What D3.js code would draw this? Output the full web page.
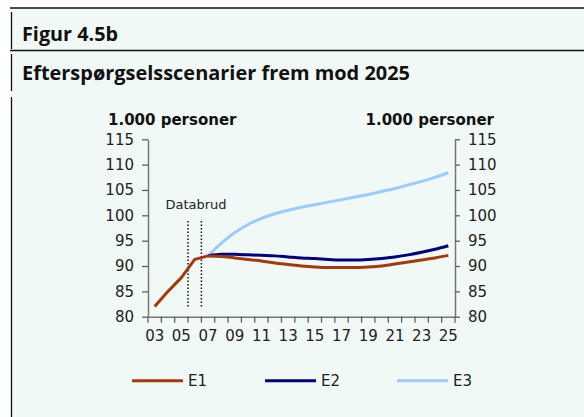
<!DOCTYPE html>
<html>
<head>
<meta charset="utf-8">
<script src="https://d3js.org/d3.v7.min.js"></script>
<style>
  body { margin: 0; background: #fff; }
  svg { display: block; }
  .tick text { font-family: "DejaVu Sans", Verdana, sans-serif; font-size: 15px; fill: #222; }
</style>
</head>
<body>
<svg id="chart" width="584" height="417"></svg>
<script>
// years on the category axis
var years = d3.range(2003, 2026);
var xLabels = ["03","05","07","09","11","13","15","17","19","21","23","25"];
var yTicks = [80, 85, 90, 95, 100, 105, 110, 115];

// historical part (straight segments)
var histYears = [2003, 2004, 2005, 2006, 2007];
var histE1 = [82.0, 85.0, 87.7, 91.3, 92.0];

// scenarios 2007-2025
var scenYears = d3.range(2007, 2026);
var e1 = [92.0, 91.9, 91.6, 91.3, 91.0, 90.6, 90.3, 90.0, 89.8, 89.7, 89.7, 89.7, 89.8, 90.0, 90.4, 90.8, 91.2, 91.6, 92.1];
var e2 = [92.0, 92.3, 92.3, 92.2, 92.1, 92.0, 91.8, 91.6, 91.5, 91.3, 91.2, 91.2, 91.3, 91.5, 91.8, 92.2, 92.7, 93.3, 94.0];
var e3 = [92.0, 94.5, 96.6, 98.2, 99.4, 100.3, 101.0, 101.6, 102.1, 102.6, 103.1, 103.6, 104.1, 104.7, 105.3, 106.0, 106.7, 107.5, 108.4];

var seriesNames = ["E1", "E2", "E3"];
var seriesColors = ["#a23a0c", "#000080", "#99ccff"];

// data break markers (between 05/06 and 06/07)
var breakYears = [2006, 2007];
var breakRange = [82, 99];

var svg = d3.select('#chart');

// page frame
svg.append('rect').attr('x', 11).attr('y', 8).attr('width', 573).attr('height', 409).attr('fill', '#f1f9f6');
svg.append('line').attr('x1', 10).attr('x2', 584).attr('y1', 8).attr('y2', 8).attr('stroke', '#111').attr('stroke-width', 1.5);
svg.append('line').attr('x1', 10).attr('x2', 584).attr('y1', 50.5).attr('y2', 50.5).attr('stroke', '#111').attr('stroke-width', 1.5);
[[12, 49], [54, 91], [97, 417]].forEach(function(s){
  svg.append('line').attr('x1', 11.5).attr('x2', 11.5).attr('y1', s[0]).attr('y2', s[1]).attr('stroke', '#111').attr('stroke-width', 1.3);
});

svg.append('text').attr('x', 22).attr('y', 41)
  .style('font-family', '"Open Sans", sans-serif').style('font-weight', 700).style('font-size', '20px').style('fill', '#111')
  .attr('textLength', 96).attr('lengthAdjust', 'spacingAndGlyphs')
  .text('Figur 4.5b');
svg.append('text').attr('x', 22).attr('y', 80)
  .style('font-family', '"Open Sans", sans-serif').style('font-weight', 700).style('font-size', '20px').style('fill', '#111')
  .attr('textLength', 388).attr('lengthAdjust', 'spacingAndGlyphs')
  .text('Efterspørgselsscenarier frem mod 2025');

var x = d3.scaleBand().domain(years).range([148, 455]);
var y = d3.scaleLinear().domain([80, 115]).range([316.7, 139.3]);
var cx = function(yr){ return x(yr) + x.bandwidth() / 2; };

// y axes
var left = svg.append('g').attr('transform', 'translate(148,0)')
  .call(d3.axisLeft(y).tickValues(yTicks).tickSize(6).tickPadding(8).tickSizeOuter(0));
var right = svg.append('g').attr('transform', 'translate(455,0)')
  .call(d3.axisRight(y).tickValues(yTicks).tickSize(5).tickPadding(8).tickSizeOuter(0));
[left, right].forEach(function(g){
  g.select('.domain').attr('stroke', '#777').attr('stroke-width', 1.5);
  g.selectAll('.tick line').attr('stroke', '#555').attr('stroke-width', 1.2);
});

// x axis: labels every other year, ticks at category boundaries
var bottom = svg.append('g').attr('transform', 'translate(0,316.7)')
  .call(d3.axisBottom(x).tickValues(years.filter(function(d){ return (d - 2003) % 2 === 0; }))
    .tickFormat(function(d, i){ return xLabels[i]; }).tickSize(0).tickPadding(14).tickSizeOuter(0));
bottom.select('.domain').attr('stroke', '#777').attr('stroke-width', 1.5);
bottom.selectAll('.tick line').remove();
bottom.selectAll('.bt').data(years.map(function(d){ return x(d); }).concat([x.range()[1]]))
  .enter().append('line').attr('class', 'bt')
  .attr('x1', function(d){ return d; }).attr('x2', function(d){ return d; })
  .attr('y1', 0).attr('y2', 6).attr('stroke', '#555').attr('stroke-width', 1.2);

// axis titles
svg.append('text').attr('x', 108).attr('y', 125)
  .style('font-family', '"DejaVu Sans", Verdana, sans-serif').style('font-weight', 'bold').style('font-size', '15px').style('fill', '#111')
  .text('1.000 personer');
svg.append('text').attr('x', 494).attr('y', 125).attr('text-anchor', 'end')
  .style('font-family', '"DejaVu Sans", Verdana, sans-serif').style('font-weight', 'bold').style('font-size', '15px').style('fill', '#111')
  .text('1.000 personer');

// data break
svg.selectAll('.brk').data(breakYears).enter().append('line').attr('class', 'brk')
  .attr('x1', function(d){ return x(d); }).attr('x2', function(d){ return x(d); })
  .attr('y1', y(breakRange[0])).attr('y2', y(breakRange[1]))
  .attr('stroke', '#111').attr('stroke-width', 1.5).attr('stroke-dasharray', '1.5,2');
svg.append('text').attr('x', 196).attr('y', 209).attr('text-anchor', 'middle')
  .style('font-family', '"DejaVu Sans", Verdana, sans-serif').style('font-size', '13px').style('fill', '#222')
  .text('Databrud');

// lines
var smooth = d3.line().x(function(d){ return cx(d[0]); }).y(function(d){ return y(d[1]); }).curve(d3.curveMonotoneX);
var straight = d3.line().x(function(d){ return cx(d[0]); }).y(function(d){ return y(d[1]); });

[e3, e2, e1].forEach(function(s, k){
  var idx = 2 - k;
  svg.append('path').datum(scenYears.map(function(yr, i){ return [yr, s[i]]; }))
    .attr('d', smooth).attr('fill', 'none').attr('stroke', seriesColors[idx]).attr('stroke-width', 3);
});
svg.append('path').datum(histYears.map(function(yr, i){ return [yr, histE1[i]]; }))
  .attr('d', straight).attr('fill', 'none').attr('stroke', seriesColors[0]).attr('stroke-width', 3).attr('stroke-linejoin', 'round');

// legend
var legendX = [132, 265, 397];
seriesNames.forEach(function(n, i){
  svg.append('line').attr('x1', legendX[i]).attr('x2', legendX[i] + 51).attr('y1', 380.7).attr('y2', 380.7)
    .attr('stroke', seriesColors[i]).attr('stroke-width', 3);
  svg.append('text').attr('x', legendX[i] + 56).attr('y', 386)
    .style('font-family', '"DejaVu Sans", Verdana, sans-serif').style('font-size', '15px').style('fill', '#222')
    .text(n);
});
</script>
</body>
</html>
